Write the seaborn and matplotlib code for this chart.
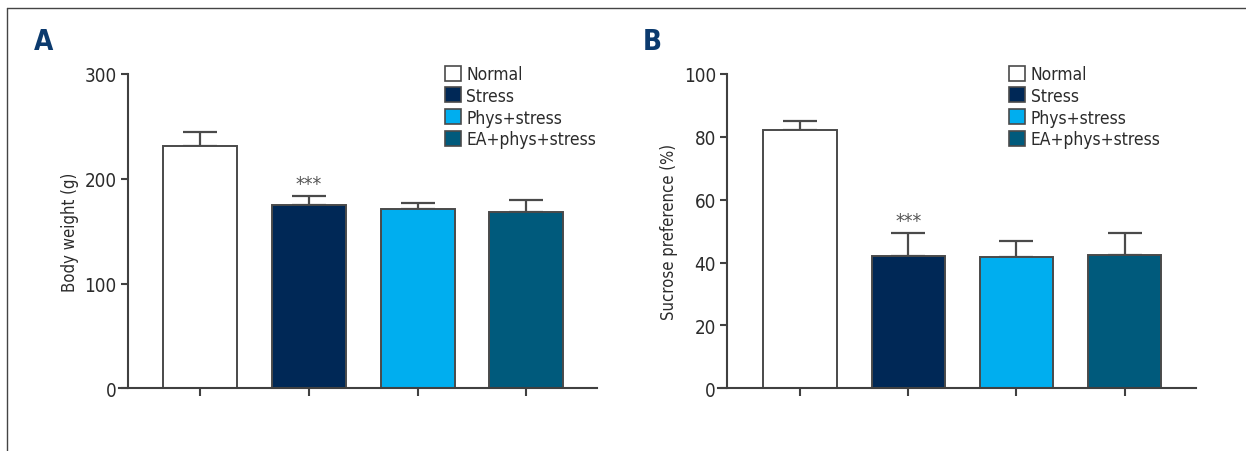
import matplotlib
matplotlib.use("Agg")
import matplotlib.pyplot as plt
import seaborn as sns
import pandas as pd
from matplotlib.patches import Patch
from matplotlib.lines import Line2D

# Groups and colours
groups = ["Normal", "Stress", "Phys+stress", "EA+phys+stress"]
colors = ["#FFFFFF", "#002856", "#00AEEF", "#005A7C"]

# Panel A: body weight (g), mean and upper SEM
weight_mean = [231, 175, 171.5, 168]
weight_sem = [14, 8.5, 5.5, 11.5]

# Panel B: sucrose preference (%), mean and upper SEM
sucrose_mean = [82.1, 42.2, 41.7, 42.4]
sucrose_sem = [3.1, 7.3, 5.2, 7.1]

sns.set_theme(style="white")
plt.rcParams["font.family"] = ["DejaVu Sans"]
plt.rcParams["font.stretch"] = "condensed"

EDGE = "#4a4a4a"
TXT = "#2b2b2b"
NAVY = "#0B3A6E"

fig = plt.figure(figsize=(12.46, 4.52), dpi=100)

# Outer frame: top and left rules
fig.add_artist(Line2D([7 / 1246, 7 / 1246], [0, 1 - 9 / 452], transform=fig.transFigure,
                      color="#444444", lw=1.0))
fig.add_artist(Line2D([7 / 1246, 1], [1 - 9 / 452, 1 - 9 / 452], transform=fig.transFigure,
                      color="#444444", lw=1.0))


def panel(rect, means, sems, ymax, yticks, ylabel, letter, letter_x, legend_x, spine_x, xlim):
    ax = fig.add_axes(rect)
    df = pd.DataFrame({"group": groups, "value": means})
    sns.barplot(data=df, x="group", y="value", hue="group", palette=colors,
                order=groups, hue_order=groups, dodge=False, legend=False,
                errorbar=None, width=0.68, saturation=1, edgecolor=EDGE, linewidth=1.4,
                ax=ax, zorder=2)
    ax.errorbar(range(len(groups)), means,
                yerr=[[0] * len(sems), sems], fmt="none", ecolor=EDGE,
                elinewidth=1.6, capsize=12, capthick=1.6, zorder=1)
    ax.set_xlim(*xlim)
    ax.set_ylim(0, ymax)
    ax.set_yticks(yticks)
    ax.set_xticks(range(len(groups)))
    ax.set_xticklabels([])
    ax.set_xlabel("")
    ax.set_ylabel(ylabel, fontsize=12, color=TXT, labelpad=4)
    for s in ["top", "right"]:
        ax.spines[s].set_visible(False)
    ax.spines["left"].set_position(("data", spine_x))
    ax.spines["left"].set_bounds(0, ymax)
    for s in ["left", "bottom"]:
        ax.spines[s].set_color("#404040")
        ax.spines[s].set_linewidth(1.5)
    ax.tick_params(axis="y", direction="out", length=5, width=1.5, color="#404040",
                   labelsize=13.5, labelcolor=TXT, left=True, pad=3)
    ax.tick_params(axis="x", direction="out", length=6, width=1.5, color="#404040",
                   bottom=True)
    ax.set_facecolor("none")
    # significance marker over the stress bar
    ax.text(1, means[1] + sems[1] + ymax * 0.01, "***", ha="center", va="bottom",
            fontsize=14, color="#555555")
    handles = [Patch(facecolor=c, edgecolor=EDGE, linewidth=1.2, label=g)
               for g, c in zip(groups, colors)]
    fig.legend(handles=handles, loc="upper left",
               bbox_to_anchor=(legend_x, 1 - 66 / 452), bbox_transform=fig.transFigure,
               frameon=False, fontsize=12.5, handlelength=0.95, handleheight=0.95,
               handletextpad=0.3, labelspacing=0.22, borderpad=0, borderaxespad=0,
               labelcolor=TXT)
    fig.text(letter_x, 1 - 42 / 452, letter, fontsize=20, fontweight="bold",
             color=NAVY, ha="left", va="center")
    return ax


bottom = 1 - 389.3 / 452
height = (389.3 - 75) / 452

panel([118.6 / 1246, bottom, (597 - 118.6) / 1246, height],
      weight_mean, weight_sem, 300, [0, 100, 200, 300], "Body weight (g)",
      "A", 34 / 1246, 444.6 / 1246, -0.665, (-0.75, 3.65))

panel([718 / 1246, bottom, (1196 - 718) / 1246, height],
      sucrose_mean, sucrose_sem, 100, [0, 20, 40, 60, 80, 100], "Sucrose preference (%)",
      "B", 643 / 1246, 1009 / 1246, -0.675, (-0.76, 3.66))

fig.savefig("out.png", dpi=100)
